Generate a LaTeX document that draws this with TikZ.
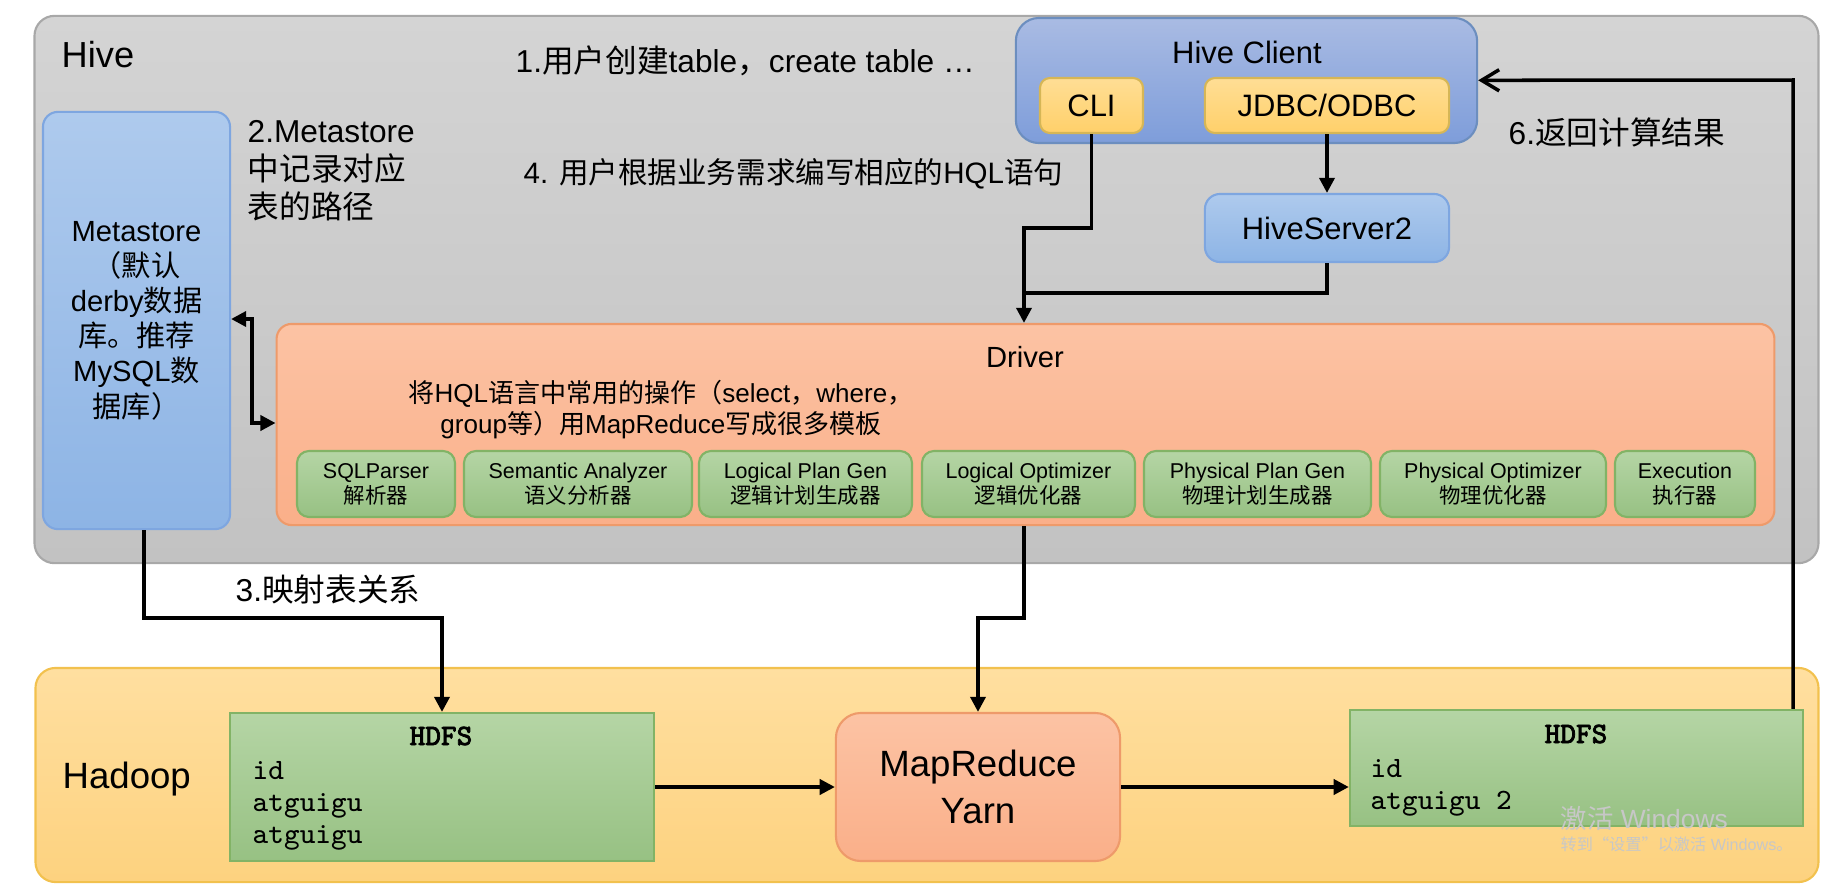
\documentclass[tikz,border=0pt]{standalone}
\usepackage{fontspec}
\setmainfont{Liberation Sans}
\newfontfamily\cjk{Noto Sans CJK SC}
\newfontfamily\monob{Latin Modern Mono}[AutoFakeBold=2.5]
\newcommand{\zh}[1]{{\cjk #1}}
\newcommand{\fsz}[2]{\fontsize{#1}{#2}\selectfont}
\usetikzlibrary{arrows.meta}

% Farben
\definecolor{hiveTop}{HTML}{D4D4D4}
\definecolor{hiveBot}{HTML}{C2C2C2}
\definecolor{hiveEdge}{HTML}{A8A8A8}
\definecolor{hadoopTop}{HTML}{FFDFA0}
\definecolor{hadoopBot}{HTML}{FDD27F}
\definecolor{hadoopEdge}{HTML}{F2C14E}
\definecolor{clientTop}{HTML}{A9BBE3}
\definecolor{clientBot}{HTML}{7E9DDA}
\definecolor{clientEdge}{HTML}{6C8EBF}
\definecolor{yelTop}{HTML}{FFDE95}
\definecolor{yelBot}{HTML}{FFD06A}
\definecolor{yelEdge}{HTML}{D6B656}
\definecolor{msTop}{HTML}{AECAED}
\definecolor{msBot}{HTML}{8DB4E5}
\definecolor{msEdge}{HTML}{7EA6E0}
\definecolor{drvTop}{HTML}{FCC3A4}
\definecolor{drvBot}{HTML}{FAAF89}
\definecolor{drvEdge}{HTML}{EE9A6A}
\definecolor{grnTop}{HTML}{B5D5A5}
\definecolor{grnBot}{HTML}{97C183}
\definecolor{grnEdge}{HTML}{82B366}

\tikzset{
    panel/.style={rounded corners=0.2cm, line width=0.6pt, inner sep=0pt},
    clientbox/.style={draw=yelEdge, top color=yelTop, bottom color=yelBot, rounded corners=0.1cm,
        line width=0.6pt, inner sep=0pt, font=\fsz{8.8}{10}},
    bluebox/.style={draw=msEdge, top color=msTop, bottom color=msBot, rounded corners=0.15cm,
        line width=0.6pt, inner sep=0pt, align=center},
    compbox/.style={draw=grnEdge, top color=grnTop, bottom color=grnBot, rounded corners=0.12cm,
        line width=0.6pt, inner sep=0pt, align=center, minimum height=0.66cm, font=\fsz{6.1}{7.1}},
    hdfsbox/.style={draw=grnEdge, top color=grnTop, bottom color=grnBot, line width=0.6pt, inner sep=0pt},
    salmonbox/.style={draw=drvEdge, top color=drvTop, bottom color=drvBot, line width=0.6pt, inner sep=0pt},
    txt/.style={inner sep=0pt},
    steplabel/.style={inner sep=0pt, font=\fsz{9}{10.8}},
    link/.style={line width=1pt, -{Triangle[length=4.3pt,width=4.3pt]}},
    both/.style={line width=1pt, {Triangle[length=4.3pt,width=4.3pt]}-{Triangle[length=4.3pt,width=4.3pt]}},
    back/.style={line width=1pt, -{Straight Barb[length=5pt,width=6pt]}}
}

\begin{document}
\begin{tikzpicture}[x=0.01cm, y=-0.01cm]
    \useasboundingbox (0,0) rectangle (1844,884);

    % Bereiche Hive und Hadoop
    \node[panel, draw=hiveEdge, top color=hiveTop, bottom color=hiveBot,
        minimum width=17.83cm, minimum height=5.47cm] (hive) at (926.5,289.5) {};
    \node[panel, draw=hadoopEdge, top color=hadoopTop, bottom color=hadoopBot,
        minimum width=17.82cm, minimum height=2.14cm] (hadoop) at (927,775) {};
    \node[txt, anchor=base west, font=\fsz{10.3}{12}] (hivelbl) at (61,67) {Hive};
    \node[txt, anchor=base west, font=\fsz{10.4}{12}] (hadooplbl) at (62,788) {Hadoop};

    % Hive Client
    \node[draw=clientEdge, top color=clientTop, bottom color=clientBot, rounded corners=0.23cm,
        line width=0.6pt, inner sep=0pt, minimum width=4.61cm, minimum height=1.25cm] (hiveclient) at (1246.5,80.5) {};
    \node[txt, anchor=base, font=\fsz{8.8}{10}] (hctitle) at (1247,63) {Hive Client};
    \node[clientbox, minimum width=1.03cm, minimum height=0.55cm] (cli) at (1091.5,105.5) {CLI};
    \node[clientbox, minimum width=2.44cm, minimum height=0.55cm] (jdbc) at (1327,105.5) {JDBC/ODBC};
    \node[bluebox, minimum width=2.44cm, minimum height=0.68cm, font=\fsz{8.8}{10}] (hs2) at (1327,228) {HiveServer2};

    % Metastore
    \node[bluebox, minimum width=1.87cm, minimum height=4.17cm, font=\fsz{8.3}{10}] (metastore) at (136.5,320.5)
        {Metastore\\\zh{（默认}\\derby\zh{数据}\\\zh{库。推荐}\\MySQL\zh{数}\\\zh{据库）}};

    % Driver mit Komponenten
    \node[salmonbox, rounded corners=0.15cm, minimum width=14.97cm, minimum height=2.01cm] (driver) at (1025.5,424.5) {};
    \node[txt, anchor=base, font=\fsz{8.3}{10}] (drvtitle) at (1025,367) {Driver};
    \node[txt, anchor=north, align=center, font=\fsz{7.4}{8.8}] (drvdesc) at (661,380)
        {\zh{将}HQL\zh{语言中常用的操作（}select\zh{，}where\zh{，}\\group\zh{等）用}MapReduce\zh{写成很多模板}};
    \foreach \nm/\cx/\bw/\en/\zhtxt in {sqlp/376/158/SQLParser/解析器,
        sema/578/228/Semantic Analyzer/语义分析器,
        lpg/805.5/213/Logical Plan Gen/逻辑计划生成器,
        lopt/1028.5/213/Logical Optimizer/逻辑优化器,
        ppg/1257.5/227/Physical Plan Gen/物理计划生成器,
        popt/1493/226/Physical Optimizer/物理优化器,
        exec/1685/140/Execution/执行器} {
        \node[compbox, minimum width=\bw*0.01cm] (\nm) at (\cx,484) {\en\\\zh{\zhtxt}};
    }

    % Hadoop: HDFS und MapReduce
    \node[hdfsbox, minimum width=4.24cm, minimum height=1.48cm] (hdfsin) at (442,787) {};
    \node[txt, anchor=base, font=\fsz{8.4}{9}\monob\bfseries] (hdfsintitle) at (441,745) {HDFS};
    \node[txt, anchor=north west, align=left, font=\fsz{8.4}{9.1}\ttfamily] (hdfsinrows) at (252,761)
        {id\\atguigu\\atguigu};
    \node[salmonbox, rounded corners=0.25cm, minimum width=2.84cm, minimum height=1.48cm,
        align=center, font=\fsz{10.4}{13.4}] (mr) at (978,787) {MapReduce\\Yarn};
    \node[hdfsbox, minimum width=4.53cm, minimum height=1.16cm] (hdfsout) at (1576.5,768) {};
    \node[txt, anchor=base, font=\fsz{8.4}{9}\monob\bfseries] (hdfsouttitle) at (1576,743) {HDFS};
    \node[txt, anchor=north west, align=left, font=\fsz{8.4}{9.1}\ttfamily] (hdfsoutrows) at (1370,759)
        {id\\atguigu 2};

    % Schritte
    \node[steplabel, anchor=base west] (s1) at (515,72) {1.\zh{用户创建}table\zh{，}create table …};
    \node[steplabel, anchor=north west, align=left] (s2) at (247,120) {2.Metastore\\\zh{中记录对应}\\\zh{表的路径}};
    \node[steplabel, anchor=base west] (s3) at (235,601) {3.\zh{映射表关系}};
    \node[steplabel, anchor=base west, font=\fsz{8.4}{10}] (s4) at (523,183) {4. \zh{用户根据业务需求编写相应的}HQL\zh{语句}};
    \node[steplabel, anchor=base west] (s6) at (1508,144) {6.\zh{返回计算结果}};

    % Verbindungen
    \coordinate (cbend) at (1024,228);
    \coordinate (sbend) at (1024,293);
    \coordinate (mtop) at (252,319);
    \coordinate (mbot) at (252,423);
    \coordinate (mapbend) at (144,618);
    \coordinate (runbend) at (1024,618);
    \coordinate (retbend) at (1793,80);
    \draw[link] (jdbc) -- (hs2);
    \draw[link] (cli.south) |- (cbend) -- (cbend |- driver.north);
    \draw[line width=1pt] (hs2.south) |- (sbend);
    \draw[both] (mtop -| metastore.east) -- (mtop) -- (mbot) -- (mbot -| driver.west);
    \draw[link] (mapbend |- metastore.south) -- (mapbend) -| (hdfsin.north);
    \draw[link] (runbend |- driver.south) -- (runbend) -| (mr.north);
    \draw[link] (hdfsin) -- (mr);
    \draw[link] (mr) -- (mr -| hdfsout.west);
    \draw[back] (retbend |- hdfsout.north) -- (retbend) -- (hiveclient);

    % Wasserzeichen
    \node[txt, anchor=base west, text=black!22, font=\fsz{7.5}{9}] (wm1) at (1560,828) {\zh{激活} Windows};
    \node[txt, anchor=base west, text=black!22, font=\fsz{4.6}{6}] (wm2) at (1560,850) {\zh{转到“设置”以激活} Windows\zh{。}};

\end{tikzpicture}
\end{document}
